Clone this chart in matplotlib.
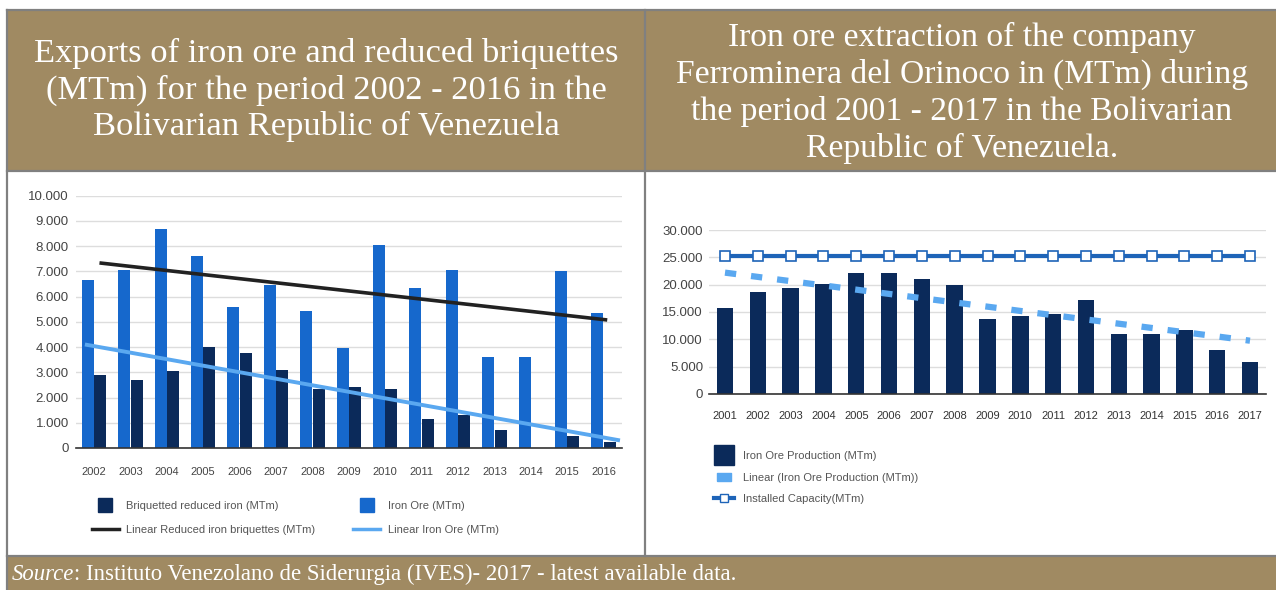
import matplotlib
matplotlib.use("Agg")
import matplotlib.pyplot as plt
from matplotlib.patches import Rectangle
from matplotlib.lines import Line2D
from matplotlib.ticker import FuncFormatter, MultipleLocator
import numpy as np

# exports 2002 - 2016
export_years = ["2002", "2003", "2004", "2005", "2006", "2007", "2008", "2009",
                "2010", "2011", "2012", "2013", "2014", "2015", "2016"]
iron_ore = [6650, 7050, 8680, 7600, 5600, 6450, 5430, 3950,
            8050, 6350, 7030, 3600, 3600, 7000, 5350]
briquettes = [2900, 2700, 3050, 4000, 3750, 3100, 2350, 2400,
              2350, 1150, 1300, 700, 0, 480, 230]
trend_dark_ends = [7330, 5070]
trend_light_ends = [4100, 300]

# production 2001 - 2017
prod_years = [str(y) for y in range(2001, 2018)]
production = [15800, 18700, 19400, 20100, 22200, 22200, 21000, 19900, 13800,
              14200, 14700, 17200, 10900, 11000, 11700, 8000, 5800]
capacity = [25300] * 17
prod_trend_ends = [22200, 9750]

title_left = "Exports of iron ore and reduced briquettes\n(MTm) for the period 2002 - 2016 in the\nBolivarian Republic of Venezuela"
title_right = "Iron ore extraction of the company\nFerrominera del Orinoco in (MTm) during\nthe period 2001 - 2017 in the Bolivarian\nRepublic of Venezuela."

W, H = 1276, 590
KHAKI = "#A08A62"
BORDER = "#808080"
NAVY = "#0B2A5A"
BLUE = "#1668CC"
LIGHT = "#5AA8F0"
CAP = "#1E64B8"
GRID = "#DDDDDD"
TXT = "#444444"

fig = plt.figure(figsize=(W / 100, H / 100), dpi=100)
bg = fig.add_axes([0, 0, 1, 1], zorder=0)
bg.set_xlim(0, W)
bg.set_ylim(H, 0)
bg.axis("off")

# table cells and borders
bg.add_patch(Rectangle((7, 10), W - 7, 161, color=KHAKI, lw=0))
bg.add_patch(Rectangle((7, 556), W - 7, H - 556, color=KHAKI, lw=0))
for y in (10, 171, 556):
    bg.plot([7, W], [y, y], color=BORDER, lw=1.6)
bg.plot([7, 7], [10, H], color=BORDER, lw=1.6)
bg.plot([645, 645], [10, 556], color=BORDER, lw=1.6)

serif = "Liberation Serif"
bg.text(326, 90, title_left, ha="center", va="center", color="white",
        fontsize=24.8, family=serif, linespacing=1.22)
bg.text(962, 93, title_right, ha="center", va="center", color="white",
        fontsize=24.2, family=serif, linespacing=1.25)

src1 = bg.text(12, 574, "Source", ha="left", va="center", color="white",
               fontsize=16.4, family=serif, style="italic")
fig.canvas.draw()
x_end = src1.get_window_extent().x1  # pixels, same as data x here
bg.text(x_end, 574, ": Instituto Venezolano de Siderurgia (IVES)- 2017 - latest available data.",
        ha="left", va="center", color="white", fontsize=16.4, family=serif)

sans = "Liberation Sans"
fmt = FuncFormatter(lambda v, p: f"{int(v):,}".replace(",", "."))


def px_axes(x0, x1, y_top, y_bot):
    return fig.add_axes([x0 / W, 1 - y_bot / H, (x1 - x0) / W, (y_bot - y_top) / H], zorder=2)


def style_axes(ax, top, step):
    ax.set_ylim(0, top)
    ax.yaxis.set_major_locator(MultipleLocator(step))
    ax.yaxis.set_major_formatter(fmt)
    ax.grid(axis="y", color=GRID, lw=1.0)
    ax.set_axisbelow(True)
    for s in ("top", "right", "left"):
        ax.spines[s].set_visible(False)
    ax.spines["bottom"].set_color("#333333")
    ax.spines["bottom"].set_linewidth(1.2)
    ax.tick_params(axis="both", length=0, labelcolor=TXT)
    ax.tick_params(axis="x", labelsize=8)
    ax.tick_params(axis="y", labelsize=9.5)
    for lab in ax.get_xticklabels() + ax.get_yticklabels():
        lab.set_family(sans)
    ax.set_facecolor("none")


# left chart: exports
ax1 = px_axes(75.8, 621.8, 195.5, 448)
x = np.arange(len(export_years))
ax1.bar(x - 0.17, iron_ore, width=0.33, color=BLUE, zorder=2)
ax1.bar(x + 0.17, briquettes, width=0.33, color=NAVY, zorder=2)
ax1.plot([0.15, 14.1], trend_dark_ends, color="#222222", lw=2.6, zorder=3,
         solid_capstyle="butt")
ax1.plot([-0.25, 14.45], trend_light_ends, color=LIGHT, lw=2.8, zorder=3,
         solid_capstyle="butt")
ax1.set_xlim(-0.5, 14.5)
ax1.set_xticks(x)
ax1.set_xticklabels(export_years)
style_axes(ax1, 10000, 1000)
ax1.tick_params(axis="x", pad=14)
ax1.tick_params(axis="y", pad=5)

h1 = [Line2D([], [], ls="none", marker="s", ms=10, color=NAVY),
      Line2D([], [], color="#222222", lw=2.5),
      Line2D([], [], ls="none", marker="s", ms=10, color=BLUE),
      Line2D([], [], color=LIGHT, lw=2.5)]
l1 = ["Briquetted reduced iron (MTm)", "Linear Reduced iron briquettes (MTm)",
      "Iron Ore (MTm)", "Linear Iron Ore (MTm)"]
fig.legend(h1, l1, ncol=2, loc="center left", bbox_to_anchor=(82 / W, 1 - 518 / H),
           frameon=False, prop={"family": sans, "size": 8}, labelcolor="#555555",
           handlelength=2.4, columnspacing=3.4, handletextpad=0.7,
           labelspacing=1.25)

# right chart: production
ax2 = px_axes(708.6, 1266.4, 230, 394)
x2 = np.arange(len(prod_years))
ax2.bar(x2, production, width=0.5, color=NAVY, zorder=2)
ax2.plot([0, 16], prod_trend_ends, color=LIGHT, lw=4.5, ls=(0, (1.8, 2.4)), zorder=3,
         solid_capstyle="butt")
ax2.plot(x2, capacity, color=CAP, lw=3, marker="s", ms=6.5, mfc="white",
         mec=CAP, mew=1.2, zorder=4)
ax2.set_xlim(-0.5, 16.5)
ax2.set_xticks(x2)
ax2.set_xticklabels(prod_years)
style_axes(ax2, 30000, 5000)
ax2.tick_params(axis="x", pad=12, labelcolor="#333333")
ax2.tick_params(axis="y", pad=4)

rect_marker = [(-1, -0.55), (1, -0.55), (1, 0.55), (-1, 0.55), (-1, -0.55)]
h2 = [Line2D([], [], ls="none", marker="s", ms=15, color=NAVY),
      Line2D([], [], ls="none", marker=rect_marker, ms=10, color=LIGHT),
      Line2D([], [], color=CAP, lw=3, marker="s", ms=6, mfc="white", mec=CAP)]
l2 = ["Iron Ore Production (MTm)", "Linear (Iron Ore Production (MTm))",
      "Installed Capacity(MTm)"]
fig.legend(h2, l2, ncol=1, loc="upper left", bbox_to_anchor=(704 / W, 1 - 441 / H),
           frameon=False, prop={"family": sans, "size": 8}, labelcolor="#555555",
           handlelength=1.8, handletextpad=0.8, labelspacing=1.05)

fig.savefig("out.png", dpi=100)
